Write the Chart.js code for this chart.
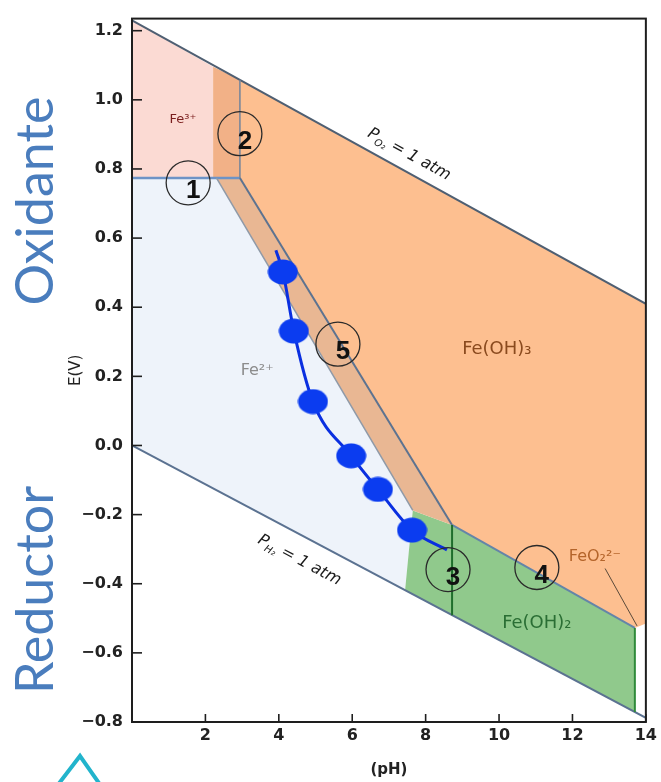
<!DOCTYPE html>
<html><head><meta charset="utf-8">
<script src="https://cdn.jsdelivr.net/npm/chart.js@4.4.0/dist/chart.umd.min.js"></script>
<style>
html,body{margin:0;padding:0;background:#fff;}
#wrap{position:relative;width:661px;height:782px;overflow:hidden;background:#fff;}
#c{position:absolute;left:0;top:0;}
.side{position:absolute;width:260px;height:60px;line-height:60px;text-align:center;font-family:Lato,"Open Sans",sans-serif;font-size:52px;color:#4a7dbd;transform:rotate(-90deg);white-space:nowrap;}
#chev{position:absolute;left:0;top:0;pointer-events:none;}
</style></head><body>
<div id="wrap">
<canvas id="c" width="661" height="782"></canvas>
<div class="side" style="left:-97px;top:171px">Oxidante</div>
<div class="side" style="left:-97px;top:560px">Reductor</div>
<svg id="chev" width="661" height="782"><polyline points="57,786 80,756 101,786" fill="none" stroke="#22b4cc" stroke-width="4"/></svg>
</div>
<script>
// ---- axes ----
const xTicks = [2, 4, 6, 8, 10, 12, 14];
const xTickLabels = ['2', '4', '6', '8', '10', '12', '14'];
const yTicks = [1.2, 1.0, 0.8, 0.6, 0.4, 0.2, 0.0, -0.2, -0.4, -0.6, -0.8];
const yTickLabels = ['1.2', '1.0', '0.8', '0.6', '0.4', '0.2', '0.0', '\u22120.2', '\u22120.4', '\u22120.6', '\u22120.8'];

// ---- stability regions (pH, E) ----
const fe3PH = [0, 2.21, 2.21, 0];
const fe3E = [0.774, 0.774, 1.096, 1.23];
const band2PH = [2.21, 2.94, 2.94, 2.21];
const band2E = [0.774, 0.774, 1.058, 1.096];
const feOH3PH = [2.94, 2.94, 14, 14, 13.70, 8.72];
const feOH3E = [0.774, 1.058, 0.41, -0.515, -0.528, -0.230];
const band5PH = [2.30, 2.94, 8.72, 7.65];
const band5E = [0.774, 0.774, -0.230, -0.188];
const fe2PH = [0, 2.30, 7.65, 7.44, 0];
const fe2E = [0.774, 0.774, -0.188, -0.419, 0];
const feOH2PH = [7.65, 8.72, 13.70, 13.70, 7.44];
const feOH2E = [-0.188, -0.230, -0.528, -0.771, -0.419];

// ---- boundary lines ----
const o2PH = [0, 14], o2E = [1.23, 0.41];
const h2PH = [0, 14], h2E = [0, -0.788];
const line1PH = [0, 2.94], line1E = [0.774, 0.774];
const line2PH = [2.94, 2.94], line2E = [0.774, 1.058];
const diagRightPH = [2.94, 8.72], diagRightE = [0.774, -0.230];
const diagLeftPH = [2.30, 7.65], diagLeftE = [0.774, -0.188];
const greenTopPH = [8.72, 13.70], greenTopE = [-0.230, -0.528];
const line3PH = [8.72, 8.72], line3E = [-0.230, -0.491];
const greenRightPH = [13.70, 13.70], greenRightE = [-0.528, -0.771];
const pointerPH = [12.89, 13.76], pointerE = [-0.356, -0.522];

// ---- measured curve (blue dots) ----
const curvePH = [3.92, 4.11, 4.41, 4.93, 5.97, 6.70, 7.63, 8.58];
const curveE = [0.565, 0.502, 0.331, 0.127, -0.030, -0.127, -0.245, -0.302];
const curveIsDot = [false, true, true, true, true, true, true, false];

// ---- annotations ----
const markerNames = ['1', '2', '5', '3', '4'];
const markerPH = [1.53, 2.94, 5.61, 8.61, 11.03];
const markerE = [0.760, 0.902, 0.293, -0.359, -0.353];
const regionNames = ['Fe\u00b3\u207a', 'Fe\u00b2\u207a', 'Fe(OH)\u2083', 'Fe(OH)\u2082', 'FeO\u2082\u00b2\u207b'];
const regionPH = [1.39, 3.41, 9.94, 11.03, 12.61];
const regionE = [0.943, 0.216, 0.279, -0.514, -0.322];
const regionStyle = [
  {font: '13px "DejaVu Sans"', color: '#7a1e1e'},
  {font: '16px "DejaVu Sans"', color: '#8c8c8c'},
  {font: '18px "DejaVu Sans"', color: '#8a4a1e'},
  {font: '18px "DejaVu Sans"', color: '#2a6e34'},
  {font: '16px "DejaVu Sans"', color: '#b4642a'}
];
const gasLabels = [
  {sub: 'O\u2082', ph: 7.57, e: 0.846, linePH: o2PH, lineE: o2E},
  {sub: 'H\u2082', ph: 4.58, e: -0.328, linePH: h2PH, lineE: h2E}
];

const pts = (xs, ys, close) => {
  const p = xs.map((x, i) => ({x: x, y: ys[i]}));
  if (close) p.push({x: xs[0], y: ys[0]});
  return p;
};

const dotImg = document.createElement('canvas');
dotImg.width = 31; dotImg.height = 26;
(function(){ const g = dotImg.getContext('2d'); g.fillStyle = '#0b3cf0'; g.beginPath(); g.ellipse(15.5, 13, 15, 12.5, 0, 0, Math.PI * 2); g.fill(); })();

function region(xs, ys, color) {
  return {data: pts(xs, ys, true), showLine: true, fill: 'shape', backgroundColor: color, borderWidth: 0, borderColor: 'rgba(0,0,0,0)', pointRadius: 0, tension: 0};
}
function seg(xs, ys, color, w) {
  return {data: pts(xs, ys, false), showLine: true, fill: false, borderColor: color, borderWidth: w, pointRadius: 0, tension: 0};
}

const datasets = [
  {data: pts(curvePH, curveE, false), showLine: true, fill: false, borderColor: '#0a2fe0', borderWidth: 3,
   cubicInterpolationMode: 'monotone',
   pointRadius: curveIsDot.map(d => d ? 13 : 0), pointStyle: curveIsDot.map(d => d ? dotImg : 'circle')},
  seg(pointerPH, pointerE, '#5a4a3a', 1),
  seg(line3PH, line3E, '#1f6e2c', 2),
  seg(greenRightPH, greenRightE, '#2f8a3a', 2),
  seg(greenTopPH, greenTopE, '#6485a8', 2),
  seg(diagRightPH, diagRightE, '#5d7390', 2),
  seg(diagLeftPH, diagLeftE, '#8f9aa8', 1.5),
  seg(line2PH, line2E, '#73839a', 1.5),
  seg(line1PH, line1E, '#6d93c6', 2.5),
  seg(o2PH, o2E, '#4f5f72', 2),
  seg(h2PH, h2E, '#5b7291', 2),
  region(band5PH, band5E, '#E9B793'),
  region(band2PH, band2E, '#F2B187'),
  region(feOH2PH, feOH2E, '#90C98C'),
  region(feOH3PH, feOH3E, '#FDBF90'),
  region(fe2PH, fe2E, '#EEF3FA'),
  region(fe3PH, fe3E, '#FBDAD3')
];

const deco = {
  id: 'deco',
  afterDatasetsDraw(chart) {
    const ctx = chart.ctx, xs = chart.scales.x, ys = chart.scales.y, a = chart.chartArea;
    ctx.save();
    // region labels
    ctx.textAlign = 'center'; ctx.textBaseline = 'middle';
    regionNames.forEach((t, i) => {
      ctx.font = regionStyle[i].font; ctx.fillStyle = regionStyle[i].color;
      ctx.fillText(t, xs.getPixelForValue(regionPH[i]), ys.getPixelForValue(regionE[i]));
    });
    // gas labels along lines
    gasLabels.forEach(g => {
      const ang = Math.atan2(ys.getPixelForValue(g.lineE[1]) - ys.getPixelForValue(g.lineE[0]),
                             xs.getPixelForValue(g.linePH[1]) - xs.getPixelForValue(g.linePH[0]));
      const cx = xs.getPixelForValue(g.ph), cy = ys.getPixelForValue(g.e);
      const size = 16;
      const f1 = 'italic ' + size + 'px "DejaVu Sans"', f2 = 'italic 10px "DejaVu Sans"';
      ctx.save(); ctx.translate(cx, cy); ctx.rotate(ang);
      ctx.textAlign = 'left'; ctx.textBaseline = 'alphabetic'; ctx.fillStyle = '#1a1a1a';
      ctx.font = f1; const wP = ctx.measureText('P').width; const rest = ' = 1 atm'; const wR = ctx.measureText(rest).width;
      ctx.font = f2; const wS = ctx.measureText(g.sub).width;
      let x = -(wP + wS + wR) / 2; const base = size * 0.36;
      ctx.font = f1; ctx.fillText('P', x, base); x += wP;
      ctx.font = f2; ctx.fillText(g.sub, x, base + 4); x += wS;
      ctx.font = f1; ctx.fillText(rest, x, base);
      ctx.restore();
    });
    // circled markers
    markerNames.forEach((t, i) => {
      const cx = xs.getPixelForValue(markerPH[i]), cy = ys.getPixelForValue(markerE[i]);
      ctx.beginPath(); ctx.arc(cx, cy, 22, 0, Math.PI * 2);
      ctx.strokeStyle = '#2a2a2a'; ctx.lineWidth = 1.3; ctx.stroke();
      ctx.font = 'bold 26px "Liberation Sans"'; ctx.fillStyle = '#111';
      ctx.textAlign = 'center'; ctx.textBaseline = 'middle';
      ctx.fillText(t, cx + 5, cy + 8);
    });
    // frame
    ctx.strokeStyle = '#1e1e1e'; ctx.lineWidth = 2;
    ctx.strokeRect(a.left, a.top, a.right - a.left, a.bottom - a.top);
    // inward ticks
    ctx.lineWidth = 1.6;
    ys.ticks.forEach(t => { const y = ys.getPixelForValue(t.value); ctx.beginPath(); ctx.moveTo(a.left, y); ctx.lineTo(a.left + 10, y); ctx.stroke(); });
    xs.ticks.forEach(t => { const x = xs.getPixelForValue(t.value); ctx.beginPath(); ctx.moveTo(x, a.bottom); ctx.lineTo(x, a.bottom - 8); ctx.stroke(); });
    ctx.restore();
  }
};

const tickFont = {family: 'DejaVu Sans', size: 16, weight: 'bold'};
new Chart(document.getElementById('c'), {
  type: 'scatter',
  data: {datasets: datasets},
  options: {
    responsive: false,
    animation: false,
    layout: {padding: {top: 11, right: 15, left: 0, bottom: 0}},
    plugins: {legend: {display: false}, tooltip: {enabled: false}},
    scales: {
      x: {
        type: 'linear', min: 0, max: 14,
        afterBuildTicks: s => { s.ticks = xTicks.map(v => ({value: v})); },
        afterFit: s => { s.height = 60; },
        grid: {display: false, drawTicks: false}, border: {display: false},
        ticks: {padding: 4, autoSkip: false, maxRotation: 0, font: tickFont, color: '#222',
                callback: v => xTickLabels[xTicks.indexOf(v)]},
        title: {display: true, text: '(pH)', color: '#222', font: {family: 'DejaVu Sans', size: 15, weight: 'bold'}, padding: {top: 0, bottom: 3}}
      },
      y: {
        type: 'linear', min: -0.8, max: 1.235,
        afterBuildTicks: s => { s.ticks = yTicks.map(v => ({value: v})); },
        afterFit: s => { s.width = 132; },
        grid: {display: false, drawTicks: false}, border: {display: false},
        ticks: {padding: 9, autoSkip: false, font: tickFont, color: '#222',
                callback: v => yTickLabels[yTicks.findIndex(t => Math.abs(t - v) < 1e-9)]},
        title: {display: true, text: 'E(V)', color: '#222', font: {family: 'DejaVu Sans', size: 15}, padding: {top: 67, bottom: 0}}
      }
    }
  },
  plugins: [deco]
});
</script>
</body></html>
